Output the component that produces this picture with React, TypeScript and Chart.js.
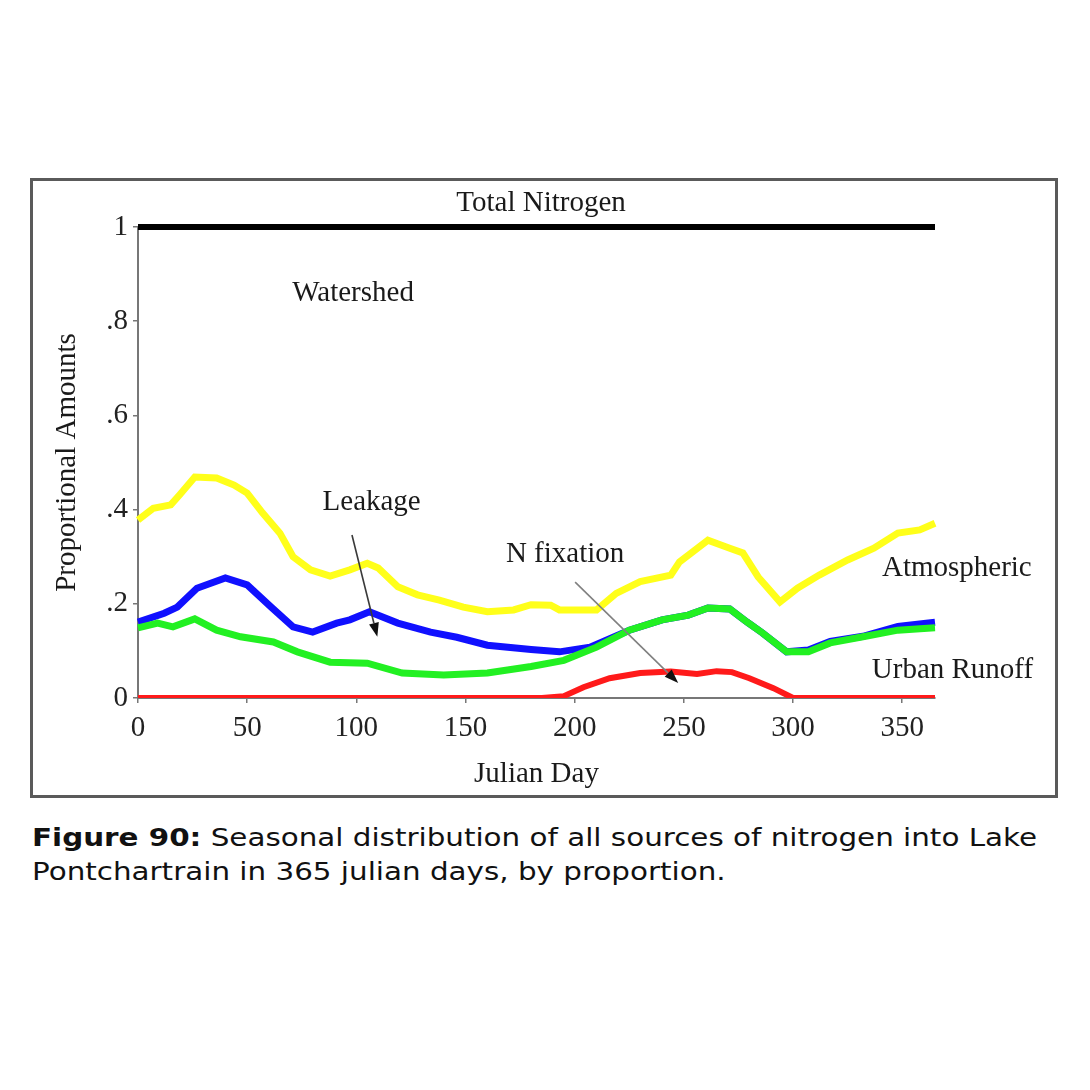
import React, { useEffect, useRef } from "react";
import { Chart, registerables } from "chart.js";

Chart.register(...registerables);

// ---- data ----
const xTicks = [0, 50, 100, 150, 200, 250, 300, 350];
const yTicks = [0, 0.2, 0.4, 0.6, 0.8, 1];
const yTickLabels = ["0", ".2", ".4", ".6", ".8", "1"];

const totalDays = [0, 365];
const totalVals = [1, 1];

const atmDays = [0, 7, 15, 19, 26, 36, 44, 50, 57, 65, 71, 79, 88, 97, 105, 110, 119, 128, 138, 149, 160, 172, 180, 189, 193, 210, 219, 230, 244, 248, 261, 271, 277, 284, 294, 302, 312, 325, 337, 348, 358, 365];
const atmVals = [0.378, 0.403, 0.41, 0.431, 0.469, 0.467, 0.452, 0.435, 0.393, 0.35, 0.3, 0.272, 0.259, 0.272, 0.286, 0.276, 0.236, 0.219, 0.208, 0.193, 0.183, 0.187, 0.198, 0.197, 0.187, 0.187, 0.222, 0.247, 0.261, 0.289, 0.335, 0.318, 0.308, 0.257, 0.204, 0.233, 0.261, 0.293, 0.318, 0.35, 0.357, 0.371];

const leakDays = [0, 12, 18, 27, 40, 50, 61, 71, 80, 91, 97, 106, 119, 134, 146, 160, 180, 193, 207, 225, 240, 252, 261, 271, 279, 286, 297, 307, 317, 332, 348, 365];
const leakVals = [0.161, 0.18, 0.193, 0.233, 0.255, 0.24, 0.193, 0.151, 0.14, 0.159, 0.166, 0.183, 0.159, 0.14, 0.129, 0.112, 0.103, 0.098, 0.108, 0.144, 0.166, 0.176, 0.191, 0.189, 0.161, 0.138, 0.098, 0.102, 0.12, 0.131, 0.152, 0.161];

const urbanDays = [0, 9, 16, 26, 36, 47, 62, 73, 88, 105, 121, 140, 160, 180, 195, 210, 225, 240, 252, 261, 271, 279, 286, 297, 307, 317, 332, 348, 365];
const urbanVals = [0.149, 0.159, 0.151, 0.168, 0.144, 0.13, 0.119, 0.098, 0.076, 0.074, 0.053, 0.049, 0.053, 0.067, 0.08, 0.108, 0.144, 0.166, 0.176, 0.191, 0.189, 0.161, 0.138, 0.098, 0.098, 0.117, 0.13, 0.144, 0.149];

const nfixDays = [0, 185, 195, 204, 216, 230, 244, 256, 265, 272, 280, 291, 300, 365];
const nfixVals = [0, 0, 0.004, 0.023, 0.042, 0.053, 0.056, 0.051, 0.057, 0.055, 0.042, 0.021, 0, 0];

const noteTexts = ["Total Nitrogen", "Watershed", "Leakage", "N fixation", "Atmospheric", "Urban Runoff"];
const noteDays = [184.6, 98.5, 107, 195.6, 375, 373];
const noteVals = [1.051, 0.86, 0.416, 0.304, 0.276, 0.059];

const arrowFromDays = [98, 200.2];
const arrowFromVals = [0.346, 0.246];
const arrowToDays = [109.6, 247.4];
const arrowToVals = [0.13, 0.032];
const arrowColors = ["#3a3a3a", "#808080"];

const SERIF = "'Liberation Serif', 'Times New Roman', serif";

const toXY = (xs: number[], ys: number[]) => xs.map((x, i) => ({ x, y: ys[i] }));

const annotationPlugin = {
  id: "annotations",
  afterDatasetsDraw(chart: any) {
    const { ctx } = chart;
    const xs = chart.scales.x;
    const ys = chart.scales.y;
    ctx.save();
    arrowFromDays.forEach((d, i) => {
      const x1 = xs.getPixelForValue(d);
      const y1 = ys.getPixelForValue(arrowFromVals[i]);
      const x2 = xs.getPixelForValue(arrowToDays[i]);
      const y2 = ys.getPixelForValue(arrowToVals[i]);
      const ang = Math.atan2(y2 - y1, x2 - x1);
      const head = 14;
      const hw = 5;
      const bx = x2 - head * Math.cos(ang);
      const by = y2 - head * Math.sin(ang);
      ctx.strokeStyle = arrowColors[i];
      ctx.lineWidth = 1.6;
      ctx.beginPath();
      ctx.moveTo(x1, y1);
      ctx.lineTo(bx, by);
      ctx.stroke();
      ctx.fillStyle = "#111";
      ctx.beginPath();
      ctx.moveTo(x2, y2);
      ctx.lineTo(bx + hw * Math.sin(ang), by - hw * Math.cos(ang));
      ctx.lineTo(bx - hw * Math.sin(ang), by + hw * Math.cos(ang));
      ctx.closePath();
      ctx.fill();
    });
    ctx.font = `29px ${SERIF}`;
    ctx.fillStyle = "#1a1a1a";
    ctx.textAlign = "center";
    ctx.textBaseline = "middle";
    noteTexts.forEach((t, i) => {
      ctx.fillText(t, xs.getPixelForValue(noteDays[i]), ys.getPixelForValue(noteVals[i]));
    });
    ctx.restore();
  },
};

export default function App() {
  const ref = useRef<HTMLCanvasElement | null>(null);

  useEffect(() => {
    if (!ref.current) return;
    const axisFont = { family: SERIF, size: 29 };
    const common = { pointRadius: 0, tension: 0, clip: false as any };
    const chart = new Chart(ref.current, {
      type: "line",
      data: {
        datasets: [
          { label: "Total Nitrogen", data: toXY(totalDays, totalVals), borderColor: "#000000", borderWidth: 6, ...common },
          { label: "N fixation", data: toXY(nfixDays, nfixVals), borderColor: "#ff1a1a", borderWidth: 6, pointRadius: 0, tension: 0 },
          { label: "Urban Runoff", data: toXY(urbanDays, urbanVals), borderColor: "#22f022", borderWidth: 7, ...common },
          { label: "Leakage", data: toXY(leakDays, leakVals), borderColor: "#1010ff", borderWidth: 7, ...common },
          { label: "Atmospheric", data: toXY(atmDays, atmVals), borderColor: "#ffff1a", borderWidth: 7, ...common },
        ],
      },
      options: {
        responsive: false,
        animation: false,
        events: [],
        layout: { padding: { left: 10, right: 120, top: 46, bottom: 3 } },
        plugins: {
          legend: { display: false },
          tooltip: { enabled: false },
          title: { display: false },
        },
        scales: {
          x: {
            type: "linear",
            min: 0,
            max: 365,
            afterBuildTicks: (s: any) => {
              s.ticks = xTicks.map((v) => ({ value: v }));
            },
            afterFit: (s: any) => {
              s.height = 94;
            },
            grid: { display: true, drawOnChartArea: false, drawTicks: true, tickLength: 5, color: "#777", lineWidth: 1.5 },
            border: { display: true, color: "#777", width: 2 },
            ticks: {
              padding: 8,
              color: "#222",
              font: axisFont,
              maxRotation: 0,
              autoSkip: false,
              callback: (v: any, i: number) => String(xTicks[i]),
            },
            title: { display: true, text: "Julian Day", color: "#1a1a1a", font: axisFont, padding: { top: 0, bottom: 0 } },
          },
          y: {
            type: "linear",
            min: 0,
            max: 1,
            afterBuildTicks: (s: any) => {
              s.ticks = yTicks.map((v) => ({ value: v }));
            },
            afterFit: (s: any) => {
              s.width = 95;
            },
            grid: { display: true, drawOnChartArea: false, drawTicks: true, tickLength: 5, color: "#777", lineWidth: 1.5 },
            border: { display: true, color: "#777", width: 2 },
            ticks: {
              padding: 5,
              color: "#222",
              font: axisFont,
              autoSkip: false,
              callback: (v: any, i: number) => yTickLabels[i],
            },
            title: { display: true, text: "Proportional Amounts", color: "#1a1a1a", font: axisFont, padding: { top: 7, bottom: 0 } },
          },
        },
      },
      plugins: [annotationPlugin],
    } as any);
    return () => chart.destroy();
  }, []);

  return (
    <div style={{ position: "absolute", left: 0, top: 0, width: 1090, height: 1090, background: "#fff" }}>
      <div
        style={{
          position: "absolute",
          left: 30,
          top: 178,
          width: 1028,
          height: 620,
          border: "3px solid #5a5a5a",
          boxSizing: "border-box",
        }}
      />
      <canvas
        ref={ref}
        width={1022}
        height={614}
        style={{ position: "absolute", left: 33, top: 181, width: 1022, height: 614 }}
      />
      <div
        style={{
          position: "absolute",
          left: 32,
          top: 821,
          fontFamily: "'DejaVu Sans', Verdana, sans-serif",
          fontSize: 24,
          lineHeight: "34px",
          color: "#111",
          whiteSpace: "nowrap",
          transform: "scaleX(1.224)",
          transformOrigin: "0 0",
        }}
      >
        <b>Figure 90:</b> Seasonal distribution of all sources of nitrogen into Lake
        <br />
        Pontchartrain in 365 julian days, by proportion.
      </div>
    </div>
  );
}
